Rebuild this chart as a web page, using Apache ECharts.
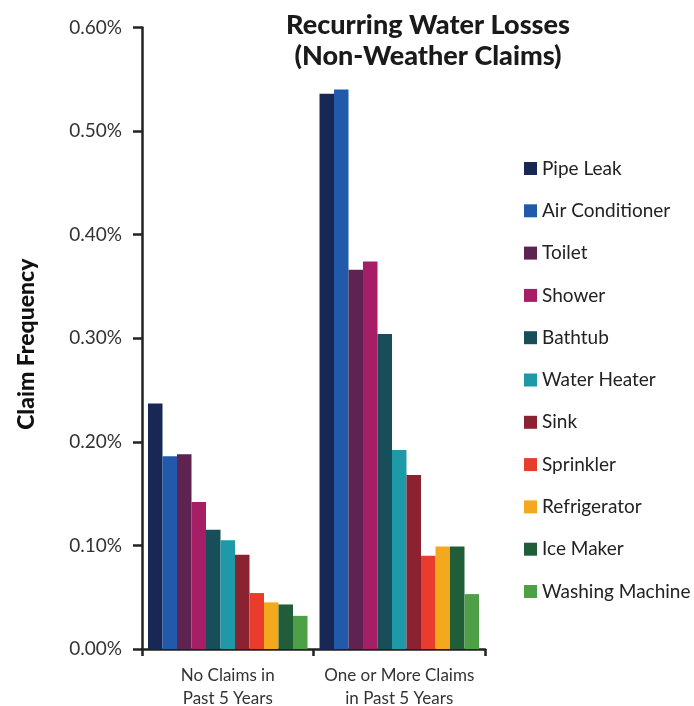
<!DOCTYPE html>
<html><head><meta charset="utf-8">
<script src="https://cdn.jsdelivr.net/npm/echarts@6/dist/echarts.min.js"></script>
<style>html,body{margin:0;padding:0;background:#fff}#c{width:694px;height:706px}</style>
</head><body><div id="c"></div>
<script>
const categories = ['No Claims in\nPast 5 Years', 'One or More Claims\nin Past 5 Years'];
const seriesNames = ['Pipe Leak','Air Conditioner','Toilet','Shower','Bathtub','Water Heater','Sink','Sprinkler','Refrigerator','Ice Maker','Washing Machine'];
const colors = ['#182855','#215AAA','#5E2350','#A61F66','#174E59','#1F99A7','#8B2231','#E83C2D','#F4A81E','#1F5E38','#4EA046'];
const pipeLeak = [0.237, 0.536];
const airConditioner = [0.186, 0.540];
const toilet = [0.188, 0.366];
const shower = [0.142, 0.374];
const bathtub = [0.115, 0.304];
const waterHeater = [0.105, 0.192];
const sink = [0.091, 0.168];
const sprinkler = [0.054, 0.090];
const refrigerator = [0.045, 0.099];
const iceMaker = [0.043, 0.099];
const washingMachine = [0.032, 0.053];
const values = [pipeLeak, airConditioner, toilet, shower, bathtub, waterHeater, sink, sprinkler, refrigerator, iceMaker, washingMachine];

const font = 'Lato, "Noto Sans", sans-serif';
const chart = echarts.init(document.getElementById('c'));
chart.setOption({
  animation: false,
  color: colors,
  title: {
    text: 'Recurring Water Losses\n(Non-Weather Claims)',
    left: 423, top: 5, textAlign: 'center',
    textStyle: {fontFamily: font, fontWeight: 900, fontSize: 27, lineHeight: 31, color: '#1a1a1a'}
  },
  legend: {
    orient: 'vertical', left: 519, top: 154,
    itemWidth: 13, itemHeight: 13, itemGap: 23.3,
    icon: 'rect',
    textStyle: {fontFamily: font, fontSize: 19, color: '#222', lineHeight: 19},
    data: seriesNames
  },
  grid: {left: 142, right: 209, top: 27.4, bottom: 57, containLabel: false, outerBoundsMode: 'none'},
  xAxis: {
    type: 'category', data: categories,
    axisLine: {lineStyle: {color: '#222', width: 2.5}},
    axisTick: {show: true, length: 7, lineStyle: {color: '#222', width: 2.5}},
    axisLabel: {interval: 0, fontFamily: font, fontSize: 17, color: '#333', lineHeight: 23, margin: 15}
  },
  yAxis: {
    type: 'value', min: 0, max: 0.6, interval: 0.1,
    name: 'Claim Frequency', nameLocation: 'middle', nameGap: 104, nameRotate: 90,
    nameTextStyle: {fontFamily: font, fontWeight: 900, fontSize: 23, color: '#111', padding: [0, 12, 0, 0]},
    axisLine: {show: true, lineStyle: {color: '#222', width: 2.5}},
    axisTick: {show: true, length: 9, lineStyle: {color: '#222', width: 2.5}},
    splitLine: {show: false},
    axisLabel: {fontFamily: font, fontSize: 19, color: '#333', margin: 20,
      formatter: v => v.toFixed(2) + '%'}
  },
  series: seriesNames.map((n, i) => ({
    name: n, type: 'bar', data: values[i],
    barGap: '0%', barCategoryGap: '7%'
  }))
});
</script></body></html>
